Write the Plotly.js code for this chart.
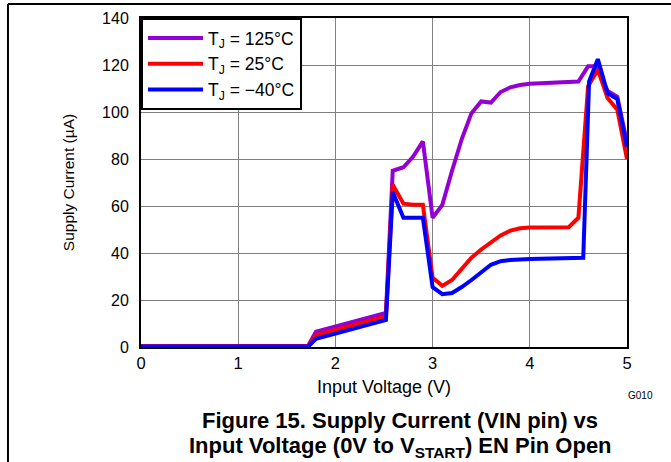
<!DOCTYPE html>
<html>
<head>
<meta charset="utf-8">
<script src="https://cdn.plot.ly/plotly-3.0.1.min.js"></script>
<style>html,body{margin:0;padding:0;background:#fff;}#chart{width:671px;height:462px;}</style>
</head>
<body>
<div id="chart"></div>
<script>
// Input voltage (V) and supply current (µA) for each junction temperature
const vin125 = [0, 1.72, 1.8, 2.52, 2.59, 2.7, 2.8, 2.9, 3.0, 3.1, 3.2, 3.3, 3.4, 3.5, 3.6, 3.7, 3.8, 3.9, 4.0, 4.5, 4.6, 4.68, 4.8, 4.9, 5.0];
const iq125  = [0.3, 0.5, 6.5, 14.5, 75, 76.5, 81, 87.5, 55, 60.5, 75, 88.5, 99.5, 104.5, 104, 108.5, 110.5, 111.5, 112, 113, 119.5, 119.5, 109, 106.5, 87];

const vin25  = [0, 1.72, 1.8, 2.52, 2.59, 2.7, 2.8, 2.9, 3.0, 3.1, 3.2, 3.3, 3.4, 3.5, 3.6, 3.7, 3.8, 3.9, 4.0, 4.4, 4.5, 4.6, 4.7, 4.8, 4.9, 5.0];
const iq25   = [0.3, 0.3, 5, 13, 69, 61, 60.5, 60.5, 29.5, 26, 28.5, 33, 38, 41.5, 44.5, 47.5, 49.5, 50.5, 50.8, 51, 55, 111, 118, 106, 101, 80];

const vinM40 = [0, 1.72, 1.8, 2.52, 2.59, 2.7, 2.8, 2.9, 3.0, 3.1, 3.2, 3.3, 3.4, 3.5, 3.6, 3.7, 3.8, 4.0, 4.5, 4.55, 4.61, 4.7, 4.8, 4.9, 5.0];
const iqM40  = [0.2, 0.2, 3.5, 11.5, 66, 55, 55, 55, 25.5, 22.5, 23, 25.5, 28.5, 32, 35, 36.5, 37, 37.5, 37.8, 38, 113, 122.5, 108, 105.5, 85];

const seriesNames = ['T<sub>J</sub> = 125°C', 'T<sub>J</sub> = 25°C', 'T<sub>J</sub> = \u221240°C'];
const xTicks = [0, 1, 2, 3, 4, 5];
const yTicks = [0, 20, 40, 60, 80, 100, 120, 140];

const FONT = 'Liberation Sans, Arial, sans-serif';
const colors = ['#9400D3', '#FF0000', '#0000FF'];

const traces = [
  {x: vin125, y: iq125, name: seriesNames[0], mode: 'lines', line: {color: colors[0], width: 4}},
  {x: vin25,  y: iq25,  name: seriesNames[1], mode: 'lines', line: {color: colors[1], width: 4}},
  {x: vinM40, y: iqM40, name: seriesNames[2], mode: 'lines', line: {color: colors[2], width: 4}}
];

const layout = {
  width: 671, height: 462,
  margin: {l: 141, r: 44, t: 18, b: 115},
  paper_bgcolor: '#fff', plot_bgcolor: '#fff',
  font: {family: FONT, size: 16, color: '#000'},
  showlegend: true,
  legend: {
    x: 0, y: 1, xanchor: 'left', yanchor: 'top',
    bgcolor: '#fff', bordercolor: '#000', borderwidth: 2,
    font: {family: FONT, size: 17.5, color: '#000'},
    tracegroupgap: 0, itemwidth: 55
  },
  xaxis: {
    range: [0, 5], tickvals: xTicks, ticktext: xTicks.map(String),
    showgrid: true, gridcolor: '#808080', gridwidth: 1,
    zeroline: false, showline: true, linecolor: '#000', linewidth: 2, mirror: true,
    ticks: '', tickfont: {family: FONT, size: 16.5},
    title: {text: 'Input Voltage (V)', font: {family: FONT, size: 18}, standoff: 10}
  },
  yaxis: {
    range: [0, 140], tickvals: yTicks, ticktext: yTicks.map(String),
    showgrid: true, gridcolor: '#808080', gridwidth: 1,
    zeroline: false, showline: true, linecolor: '#000', linewidth: 2, mirror: true,
    ticks: '', tickfont: {family: FONT, size: 16}, ticklabelstandoff: 7,
    title: {text: 'Supply Current (\u00b5A)', font: {family: FONT, size: 15.5}, standoff: 24}
  },
  shapes: [
    {type: 'line', xref: 'paper', yref: 'paper', x0: -0.2737, x1: 1.1, y0: 1.0426, y1: 1.0426, line: {color: '#000', width: 2}},
    {type: 'line', xref: 'paper', yref: 'paper', x0: -0.2737, x1: -0.2737, y0: 1.0426, y1: -0.4, line: {color: '#000', width: 2}}
  ],
  annotations: [
    {xref: 'paper', yref: 'paper', x: 1.027, y: -0.146, xanchor: 'center', yanchor: 'middle', showarrow: false,
     text: 'G010', font: {family: FONT, size: 10, color: '#000'}},
    {xref: 'paper', yref: 'paper', x: 0.532, y: -0.222, xanchor: 'center', yanchor: 'middle', showarrow: false,
     text: '<b>Figure 15. Supply Current (VIN pin) vs</b>', font: {family: FONT, size: 22, color: '#000'}},
    {xref: 'paper', yref: 'paper', x: 0.534, y: -0.305, xanchor: 'center', yanchor: 'middle', showarrow: false,
     text: '<b>Input Voltage (0V to V<sub>START</sub>) EN Pin Open</b>', font: {family: FONT, size: 22, color: '#000'}}
  ]
};

Plotly.newPlot('chart', traces, layout, {staticPlot: true, displayModeBar: false});
</script>
</body>
</html>
